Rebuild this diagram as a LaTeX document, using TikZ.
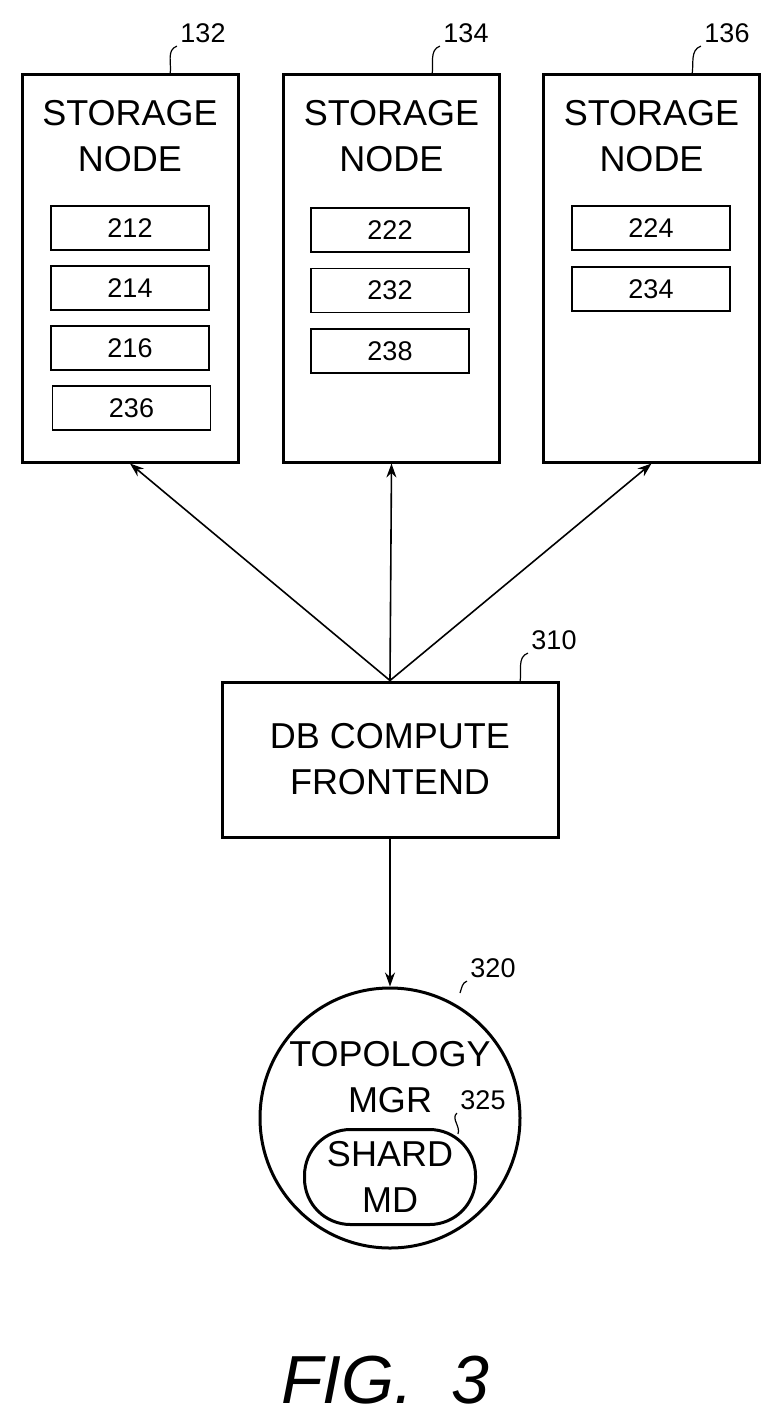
\documentclass[tikz,border=0pt]{standalone}
\usepackage{fontspec}
\setmainfont{Liberation Sans}
\usetikzlibrary{arrows.meta}
\tikzset{
  store/.style={rectangle, draw, line width=3pt, minimum width=216pt, minimum height=387pt},
  slot/.style={rectangle, draw, line width=1.6pt, minimum width=158pt, minimum height=44pt, font=\fontsize{27}{30}\selectfont},
  big/.style={font=\fontsize{36}{46}\selectfont, align=center},
  ref/.style={font=\fontsize{27}{30}\selectfont},
  lead/.style={line width=1.2pt},
  arr/.style={-{Stealth[length=14pt,width=10pt]}, line width=1.6pt}
}
\begin{document}
\begin{tikzpicture}[x=1pt,y=-1pt]
\useasboundingbox (0,0) rectangle (782,1426);
%%%%%%%%%%%%%%%% storage nodes
\node[store](sn1) at (130,268.5){};
\node[store](sn2) at (391.5,268.5){};
\node[store](sn3) at (651.5,268.5){};
\node[big](t1) at (130,136){STORAGE\\NODE};
\node[big](t2) at (391.5,136){STORAGE\\NODE};
\node[big](t3) at (651.5,136){STORAGE\\NODE};
\node[slot](s212) at (130,228){212};
\node[slot](s214) at (130,288){214};
\node[slot](s216) at (130,348){216};
\node[slot](s236) at (131.5,408){236};
\node[slot](s222) at (390,230){222};
\node[slot](s232) at (390,290.5){232};
\node[slot](s238) at (390,351){238};
\node[slot](s224) at (651,228){224};
\node[slot](s234) at (651,289){234};
\node[ref](r132) at (203,33){132};
\node[ref](r134) at (466,33){134};
\node[ref](r136) at (727,33){136};
\draw[lead] (170,75) to[out=80,in=200] (r132.south west);
\draw[lead] (432,75) to[out=80,in=200] (r134.south west);
\draw[lead] (692,75) to[out=80,in=200] (r136.south west);
%%%%%%%%%%%%%%%% frontend
\node[rectangle, draw, line width=3pt, minimum width=336pt, minimum height=155pt, big](fe) at (390,759.5){DB COMPUTE\\FRONTEND};
\node[ref](r310) at (554,640){310};
\draw[lead] (520,682) to[out=80,in=200] (r310.south west);
\draw[arr] (fe.north) -- (sn1.south);
\draw[arr] (fe.north) -- (sn2.south);
\draw[arr] (fe.north) -- (sn3.south);
%%%%%%%%%%%%%%%% topology manager
\node[circle, draw, line width=3pt, minimum size=260pt](tm) at (390,1118){};
\node[big](tmt) at (390,1077){TOPOLOGY\\MGR};
\node[rectangle, rounded corners=46pt, draw, line width=3pt, minimum width=171pt, minimum height=95pt, big](md) at (390,1177){SHARD\\MD};
\node[ref](r320) at (493,968){320};
\node[ref](r325) at (483,1100){325};
\draw[lead] (460,993) to[out=70,in=200] (r320.south west);
\draw[lead] (458,1134) to[out=70,in=220] (r325.south west);
\draw[arr] (fe.south) -- (tm.north);
\node[font=\fontsize{68}{70}\selectfont\itshape](fig) at (385,1380){FIG.~~3};
\end{tikzpicture}
\end{document}
